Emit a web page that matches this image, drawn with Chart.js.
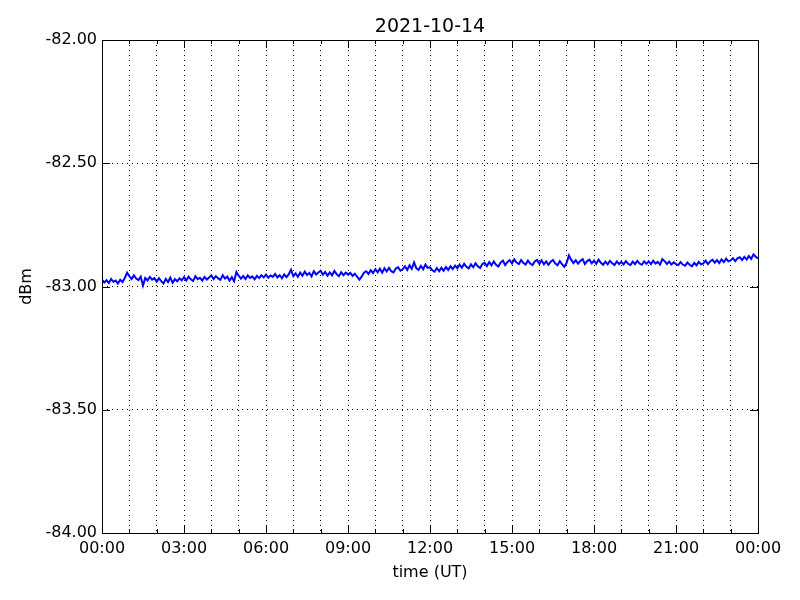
<!DOCTYPE html>
<html>
<head>
<meta charset="utf-8">
<script src="https://cdn.jsdelivr.net/npm/chart.js@4"></script>
<style>
  html, body { margin: 0; padding: 0; background: #fff; }
</style>
</head>
<body>
<canvas id="chart" width="800" height="600"></canvas>
<script>
// samples every 5 minutes, one array per 6 hours (dBm)
const block00 = [
  -82.972, -82.984, -82.975, -82.986, -82.970, -82.981, -82.976, -82.988, -82.973, -82.982, -82.966, -82.944,
  -82.958, -82.970, -82.955, -82.968, -82.974, -82.960, -82.996, -82.965, -82.975, -82.961, -82.972, -82.966,
  -82.980, -82.966, -82.978, -82.988, -82.969, -82.982, -82.964, -82.985, -82.970, -82.979, -82.967, -82.975,
  -82.962, -82.975, -82.960, -82.971, -82.978, -82.958, -82.970, -82.965, -82.976, -82.961, -82.972, -82.964,
  -82.955, -82.970, -82.958, -82.967, -82.973, -82.954, -82.968, -82.960, -82.976, -82.962, -82.979, -82.941,
  -82.956, -82.968, -82.958, -82.970, -82.955, -82.965, -82.959, -82.971, -82.957, -82.966, -82.954, -82.963
];
const block06 = [
  -82.952, -82.964, -82.955, -82.961, -82.949, -82.963, -82.954, -82.966, -82.951, -82.962, -82.950, -82.932,
  -82.958, -82.947, -82.961, -82.944, -82.956, -82.940, -82.953, -82.945, -82.959, -82.938, -82.951, -82.943,
  -82.936, -82.952, -82.941, -82.956, -82.943, -82.955, -82.937, -82.950, -82.958, -82.942, -82.954, -82.944,
  -82.951, -82.945, -82.957, -82.948, -82.960, -82.972, -82.960, -82.944, -82.938, -82.949, -82.934, -82.945,
  -82.930, -82.942, -82.928, -82.944, -82.926, -82.939, -82.924, -82.938, -82.943, -82.927, -82.922, -82.936,
  -82.930, -82.918, -82.933, -82.914, -82.928, -82.902, -82.926, -82.932, -82.916, -82.930, -82.911, -82.924
];
const block12 = [
  -82.922, -82.934, -82.940, -82.925, -82.938, -82.924, -82.936, -82.921, -82.933, -82.918, -82.929, -82.915,
  -82.926, -82.911, -82.924, -82.908, -82.920, -82.927, -82.910, -82.922, -82.906, -82.918, -82.925, -82.909,
  -82.904, -82.917, -82.901, -82.914, -82.898, -82.912, -82.919, -82.903, -82.895, -82.913, -82.900, -82.893,
  -82.906, -82.890, -82.903, -82.909, -82.893, -82.905, -82.911, -82.895, -82.907, -82.913, -82.898, -82.892,
  -82.908, -82.894, -82.910, -82.898, -82.912, -82.899, -82.892, -82.907, -82.914, -82.897, -82.910, -82.920,
  -82.904, -82.874, -82.892, -82.905, -82.893, -82.907, -82.896, -82.889, -82.909, -82.897, -82.891, -82.906
];
const block18 = [
  -82.895, -82.908, -82.891, -82.904, -82.912, -82.899, -82.910, -82.896, -82.906, -82.913, -82.898, -82.909,
  -82.900, -82.910, -82.897, -82.908, -82.913, -82.899, -82.909, -82.896, -82.907, -82.912, -82.898, -82.908,
  -82.898, -82.909, -82.895, -82.907, -82.900, -82.911, -82.889, -82.897, -82.909, -82.899, -82.911, -82.902,
  -82.909, -82.913, -82.901, -82.911, -82.916, -82.903, -82.912, -82.918, -82.904, -82.914, -82.900, -82.910,
  -82.906, -82.895, -82.909, -82.898, -82.891, -82.903, -82.893, -82.905, -82.890, -82.901, -82.887, -82.898,
  -82.894, -82.885, -82.897, -82.886, -82.881, -82.893, -82.880, -82.891, -82.876, -82.888, -82.870, -82.879
];
const lastValue = [-82.886];

const stepMinutes = 5;
const yTicks = [-84.0, -83.5, -83.0, -82.5, -82.0];
const xMajorEvery = 180; // label every 3 hours, grid every hour
const chartTitle = '2021-10-14';

const signal = [...block00, ...block06, ...block12, ...block18, ...lastValue];
const points = signal.map((v, i) => ({x: i * stepMinutes, y: v}));

Chart.defaults.font.family = "'DejaVu Sans', sans-serif";
Chart.defaults.color = '#000';

// frame + inward ticks like the original plot
const framePlugin = {
  id: 'frame',
  afterDraw(chart) {
    const {ctx, chartArea: a, scales} = chart;
    ctx.save();
    ctx.strokeStyle = '#000';
    ctx.lineWidth = 1;
    ctx.beginPath();
    scales.x.ticks.forEach(t => {
      const px = Math.round(scales.x.getPixelForValue(t.value)) + 0.5;
      const len = t.value % xMajorEvery === 0 ? 8 : 4;
      ctx.moveTo(px, a.bottom); ctx.lineTo(px, a.bottom - len);
      ctx.moveTo(px, a.top); ctx.lineTo(px, a.top + len);
    });
    scales.y.ticks.forEach(t => {
      const py = Math.round(scales.y.getPixelForValue(t.value)) + 0.5;
      ctx.moveTo(a.left, py); ctx.lineTo(a.left + 8, py);
      ctx.moveTo(a.right, py); ctx.lineTo(a.right - 8, py);
    });
    ctx.stroke();
    ctx.strokeRect(Math.round(a.left) + 0.5, Math.round(a.top) + 0.5,
                   Math.round(a.right - a.left), Math.round(a.bottom - a.top));
    ctx.restore();
  }
};

new Chart(document.getElementById('chart'), {
  type: 'line',
  data: {
    datasets: [{
      data: points,
      borderColor: '#0000ff',
      borderWidth: 2,
      pointRadius: 0,
      tension: 0,
      fill: false
    }]
  },
  options: {
    responsive: false,
    devicePixelRatio: 1,
    animation: false,
    layout: {padding: {left: 0, right: 42, top: 0, bottom: 0}},
    plugins: {
      legend: {display: false},
      tooltip: {enabled: false}
    },
    scales: {
      x: {
        type: 'linear',
        min: 0,
        max: 1440,
        afterFit: s => { s.height = 67; },
        afterBuildTicks: s => {
          s.ticks = [];
          for (let m = 0; m <= 1440; m += 60) s.ticks.push({value: m});
        },
        ticks: {
          autoSkip: false,
          maxRotation: 0,
          padding: 6,
          font: {size: 16},
          callback: v => {
            if (v % xMajorEvery !== 0) return '';
            const h = (v / 60) % 24;
            return String(h).padStart(2, '0') + ':00';
          }
        },
        grid: {
          color: '#000',
          lineWidth: 1,
          drawTicks: false
        },
        border: {display: false, dash: [1, 4]},
        title: {
          display: true,
          text: 'time (UT)',
          font: {size: 16},
          padding: {top: 0, bottom: 18}
        }
      },
      // top axis only carries the title so it is centred over the plot area
      xTop: {
        type: 'linear',
        position: 'top',
        min: 0,
        max: 1440,
        afterFit: s => { s.height = 40; },
        ticks: {display: false},
        grid: {display: false, drawTicks: false},
        border: {display: false},
        title: {
          display: true,
          text: chartTitle,
          font: {size: 19},
          padding: {top: 15.5, bottom: 0}
        }
      },
      y: {
        min: -84,
        max: -82,
        afterFit: s => { s.width = 102; },
        afterBuildTicks: s => { s.ticks = yTicks.map(v => ({value: v})); },
        ticks: {
          padding: 5,
          font: {size: 16},
          callback: v => v.toFixed(2)
        },
        grid: {
          color: '#000',
          lineWidth: 1,
          drawTicks: false
        },
        border: {display: false, dash: [1, 4]},
        title: {
          display: true,
          text: 'dBm',
          font: {size: 16},
          padding: {top: 17, bottom: 0}
        }
      }
    }
  },
  plugins: [framePlugin]
});
</script>
</body>
</html>
